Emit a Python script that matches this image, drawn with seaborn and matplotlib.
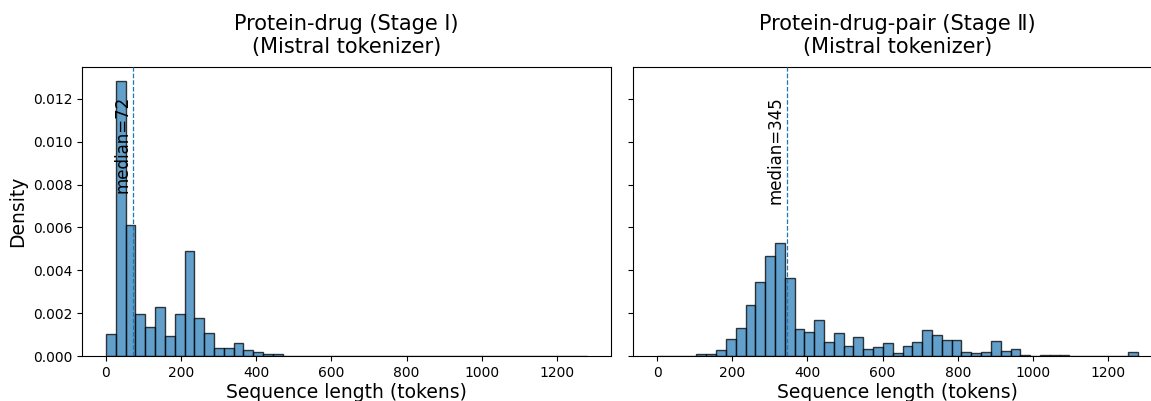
import numpy as np
import pandas as pd
import matplotlib.pyplot as plt
import seaborn as sns

# bin edges shared by both panels (49 bins over 0..1280)
bin_edges = np.linspace(0, 1280, 50)

# density per bin
stage1_density = [
    0.00104, 0.01284, 0.00610, 0.00195, 0.00137, 0.00229, 0.00093, 0.00196,
    0.00490, 0.00179, 0.00109, 0.00037, 0.00037, 0.00059, 0.00026, 0.00017,
    0.00009, 0.00009, 0.00001, 0.00001, 0.00001, 0.00001, 0.00001, 0.00001,
    0.0, 0.0, 0.0, 0.0, 0.0, 0.0, 0.0, 0.0, 0.0, 0.0, 0.0, 0.0, 0.0, 0.0,
    0.0, 0.0, 0.0, 0.0, 0.0, 0.0, 0.0, 0.0, 0.0, 0.0, 0.00001,
]
stage2_density = [
    0.00002, 0.00002, 0.00001, 0.00001, 0.00011, 0.00010, 0.00030, 0.00081,
    0.00132, 0.00237, 0.00347, 0.00468, 0.00528, 0.00366, 0.00128, 0.00112,
    0.00170, 0.00067, 0.00107, 0.00047, 0.00090, 0.00033, 0.00044, 0.00059,
    0.00016, 0.00048, 0.00065, 0.00120, 0.00097, 0.00075, 0.00076, 0.00017,
    0.00014, 0.00020, 0.00072, 0.00025, 0.00031, 0.00003, 0.00002, 0.00003,
    0.00005, 0.00004, 0.00001, 0.00001, 0.00001, 0.00001, 0.00001, 0.00001,
    0.00020,
]
medians = [72, 345]
titles = [
    "Protein-drug (Stage \u2160)\n(Mistral tokenizer)",
    "Protein-drug-pair (Stage \u2161)\n(Mistral tokenizer)",
]

centers = (bin_edges[:-1] + bin_edges[1:]) / 2

fig, axes = plt.subplots(1, 2, figsize=(11.51, 4.01), dpi=100, sharey=True)

for ax, dens, med, title in zip(axes, [stage1_density, stage2_density], medians, titles):
    df = pd.DataFrame({"length": centers, "density": dens})
    sns.histplot(data=df, x="length", weights="density", bins=list(bin_edges),
                 stat="count", color="#1f77b4", alpha=0.7,
                 edgecolor=(0, 0, 0, 0.75), linewidth=1, ax=ax)
    ax.axvline(med, color="#1f77b4", linestyle="--", linewidth=0.9, zorder=5)
    ax.set_title(title, fontsize=15, pad=10)
    ax.set_xlabel("Sequence length (tokens)", fontsize=13.5, labelpad=2)
    ax.tick_params(labelsize=10)

axes[0].set_ylabel("Density", fontsize=13.5)
axes[1].set_ylabel("")

ymax = axes[0].get_ylim()[1]
for ax, med in zip(axes, medians):
    ax.text(med - 5, 0.9 * ymax, f"median={med}", rotation=90,
            ha="right", va="top", fontsize=12)

# the right panel runs slightly past the figure edge, as in the reference
axes[0].set_position([0.0712, 0.1122, 0.4596, 0.7207])
axes[1].set_position([0.5501, 0.1122, 0.4596, 0.7207])
plt.savefig("out.png", dpi=100)
